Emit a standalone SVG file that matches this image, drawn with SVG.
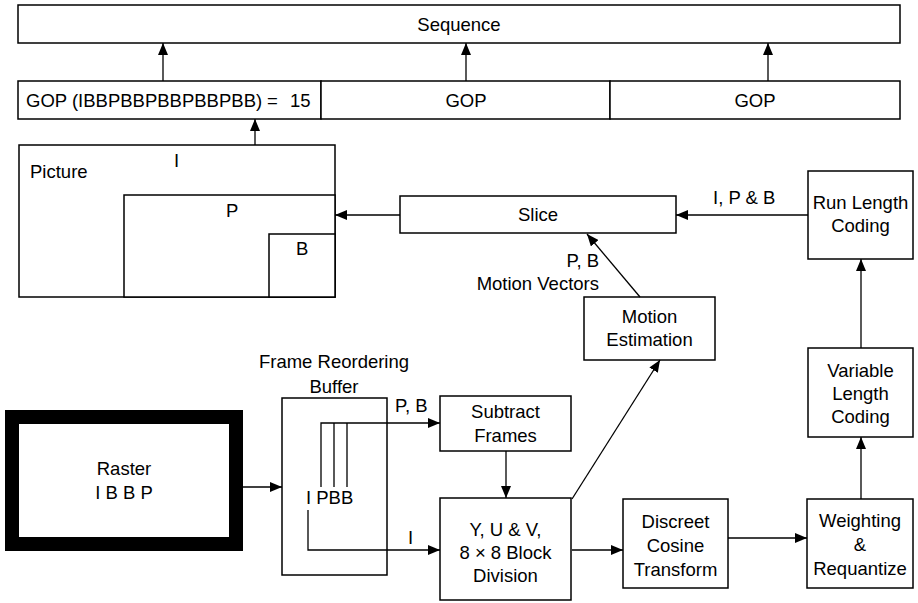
<svg xmlns="http://www.w3.org/2000/svg" width="918" height="603" viewBox="0 0 918 603">
  <style>
    .box { fill: #fff; stroke: #000; stroke-width: 1.5; }
    .line { fill: none; stroke: #000; stroke-width: 1.3; }
    .arrow { fill: none; stroke: #000; stroke-width: 1.3; marker-end: url(#ah); }
    text { font-family: "Liberation Sans", Arial, sans-serif; font-size: 18.5px; fill: #000; }
    .c { text-anchor: middle; }
    .r { text-anchor: end; }
  </style>
  <defs>
    <marker id="ah" viewBox="0 0 12 10" refX="12" refY="5" markerWidth="12" markerHeight="10" orient="auto" markerUnits="userSpaceOnUse">
      <path d="M0,0L12,5L0,10z" fill="#000"/>
    </marker>
  </defs>
  <rect width="918" height="603" fill="#fff"/>

  <!-- stream hierarchy -->
  <g id="sequence">
    <rect class="box" x="18" y="5" width="882" height="38"/>
    <text class="c" x="459" y="30.5">Sequence</text>
  </g>
  <g id="gop1">
    <rect class="box" x="18" y="81" width="303" height="38"/>
    <text x="26" y="107" font-size="18">GOP (IBBPBBPBBPBBPBB)<tspan x="267">=</tspan><tspan x="290">15</tspan></text>
  </g>
  <g id="gop2">
    <rect class="box" x="321" y="81" width="289" height="38"/>
    <text class="c" x="466" y="107">GOP</text>
  </g>
  <g id="gop3">
    <rect class="box" x="610" y="81" width="290" height="38"/>
    <text class="c" x="755" y="107">GOP</text>
  </g>

  <g id="picture">
    <rect class="box" x="19" y="145" width="316" height="152"/>
    <rect class="box" x="124" y="195" width="211" height="102"/>
    <rect class="box" x="269" y="234" width="66" height="63"/>
    <text x="30" y="178">Picture</text>
    <text x="174" y="167">I</text>
    <text x="226" y="217">P</text>
    <text x="296" y="255">B</text>
  </g>

  <g id="slice">
    <rect class="box" x="400" y="196" width="276" height="37"/>
    <text class="c" x="538" y="221">Slice</text>
  </g>

  <g id="run-length">
    <rect class="box" x="808" y="171" width="105" height="88"/>
    <text class="c" x="860.5" y="209">Run Length</text>
    <text class="c" x="860.5" y="232">Coding</text>
  </g>

  <g id="motion-estimation">
    <rect class="box" x="584" y="297" width="131" height="63"/>
    <text class="c" x="649.5" y="323">Motion</text>
    <text class="c" x="649.5" y="346">Estimation</text>
  </g>

  <g id="variable-length">
    <rect class="box" x="808" y="348" width="105" height="89"/>
    <text class="c" x="860.5" y="377">Variable</text>
    <text class="c" x="860.5" y="400">Length</text>
    <text class="c" x="860.5" y="423">Coding</text>
  </g>

  <g id="raster">
    <rect x="12" y="417" width="224" height="127" fill="#fff" stroke="#000" stroke-width="14"/>
    <text class="c" x="124" y="475">Raster</text>
    <text class="c" x="124" y="499">I B B P</text>
  </g>

  <g id="reorder-buffer">
    <text class="c" x="334" y="368">Frame Reordering</text>
    <text class="c" x="334" y="393">Buffer</text>
    <rect class="box" x="282" y="398" width="105" height="177"/>
    <text x="306" y="504">I PBB</text>
  </g>

  <g id="subtract">
    <rect class="box" x="440" y="396" width="131" height="55"/>
    <text class="c" x="505.5" y="418">Subtract</text>
    <text class="c" x="505.5" y="442">Frames</text>
  </g>

  <g id="block-division">
    <rect class="box" x="440" y="498" width="131" height="102"/>
    <text class="c" x="505.5" y="536">Y, U &amp; V,</text>
    <text class="c" x="505.5" y="559">8 × 8 Block</text>
    <text class="c" x="505.5" y="582">Division</text>
  </g>

  <g id="dct">
    <rect class="box" x="623" y="499" width="105" height="89"/>
    <text class="c" x="675.5" y="528">Discreet</text>
    <text class="c" x="675.5" y="552">Cosine</text>
    <text class="c" x="675.5" y="576">Transform</text>
  </g>

  <g id="weighting">
    <rect class="box" x="807" y="499" width="106" height="89"/>
    <text class="c" x="860" y="527">Weighting</text>
    <text class="c" x="860" y="551">&amp;</text>
    <text class="c" x="860" y="575">Requantize</text>
  </g>

  <g id="connectors">
    <path class="arrow" d="M163,81V43"/>
    <path class="arrow" d="M466,81V43"/>
    <path class="arrow" d="M768,81V43"/>
    <path class="arrow" d="M255,145V119"/>
    <path class="arrow" d="M400,215H335"/>
    <path class="arrow" d="M808,215H676"/>
    <path class="arrow" d="M640,297L587,234"/>
    <path class="arrow" d="M861,348V259"/>
    <path class="arrow" d="M861,499V437"/>
    <path class="arrow" d="M728,538H807"/>
    <path class="arrow" d="M572,550H623"/>
    <path class="arrow" d="M572,499L660,360"/>
    <path class="arrow" d="M506,451V498"/>
    <path class="arrow" d="M243,487H282"/>
    <path class="arrow" d="M321,487V423H440"/>
    <path class="line" d="M334,423V487M347,423V487"/>
    <path class="arrow" d="M308,510V550H440"/>
    <text x="713" y="204">I, P &amp; B</text>
    <text class="r" x="599" y="267">P, B</text>
    <text class="r" x="599" y="290">Motion Vectors</text>
    <text x="395" y="412">P, B</text>
    <text x="408" y="544">I</text>
  </g>
</svg>
